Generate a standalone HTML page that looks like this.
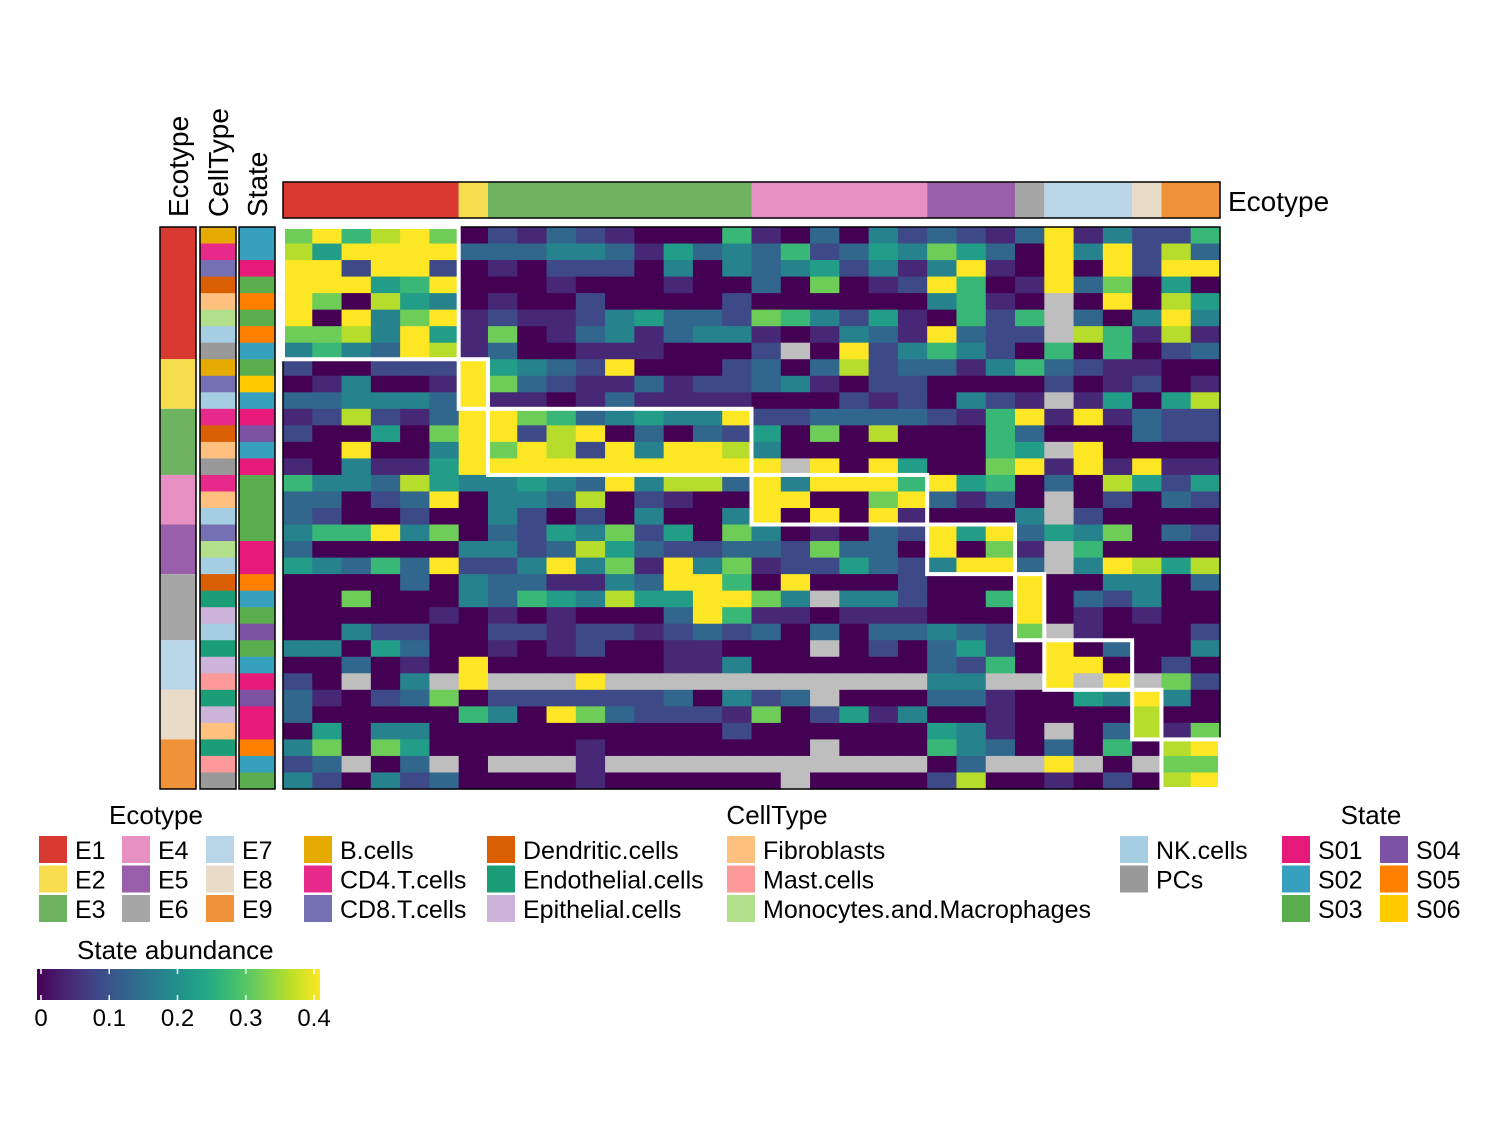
<!DOCTYPE html>
<html><head><meta charset="utf-8">
<style>
html,body{margin:0;padding:0;background:#fff;}
svg{display:block;font-family:"Liberation Sans",Arial,sans-serif;}
</style></head>
<body>
<svg id="chart" width="1500" height="1125" viewBox="0 0 1500 1125" xmlns="http://www.w3.org/2000/svg">
<defs>
<linearGradient id="vir" x1="0" x2="1" y1="0" y2="0">
<stop offset="0" stop-color="#440154"/><stop offset="0.1" stop-color="#482475"/><stop offset="0.2" stop-color="#414487"/><stop offset="0.3" stop-color="#355f8d"/><stop offset="0.4" stop-color="#2a788e"/><stop offset="0.5" stop-color="#21918c"/><stop offset="0.6" stop-color="#22a884"/><stop offset="0.7" stop-color="#44bf70"/><stop offset="0.8" stop-color="#7ad151"/><stop offset="0.9" stop-color="#bddf26"/><stop offset="1" stop-color="#fde725"/>
</linearGradient>
</defs>
<g id="cells"></g>
<g id="boxes"></g>
<g id="annots"></g>
<g id="legends"></g>
</svg>
<script>
const n = null;
const ecotypes = ["E1","E2","E3","E4","E5","E6","E7","E8","E9"];
const colEcotypeCounts = [6,1,9,6,3,1,3,1,2];
const rowEcotypeCounts = [8,3,4,3,3,4,3,3,3];
const rowCellTypes = ["B.cells","CD4.T.cells","CD8.T.cells","Dendritic.cells","Fibroblasts","Monocytes.and.Macrophages","NK.cells","PCs",
 "B.cells","CD8.T.cells","NK.cells","CD4.T.cells","Dendritic.cells","Fibroblasts","PCs",
 "CD4.T.cells","Fibroblasts","NK.cells","CD8.T.cells","Monocytes.and.Macrophages","NK.cells",
 "Dendritic.cells","Endothelial.cells","Epithelial.cells","NK.cells","Endothelial.cells","Epithelial.cells","Mast.cells",
 "Endothelial.cells","Epithelial.cells","Fibroblasts","Endothelial.cells","Mast.cells","PCs"];
const rowStates = ["S02","S02","S01","S03","S05","S03","S05","S02","S03","S06","S02","S01","S04","S02","S01",
 "S03","S03","S03","S03","S01","S01","S05","S02","S03","S04","S03","S02","S01","S04","S01","S01","S05","S02","S03"];
// abundance levels 0..9 (level 9 = 0.4), null = NA
const abundanceLevel = [
[7,9,6,8,9,7,0,2,1,3,2,1,0,0,0,6,1,0,3,0,4,2,3,2,1,3,9,1,4,2,2,6],
[8,5,9,9,9,9,3,3,3,4,4,3,1,5,3,4,3,6,2,3,5,4,7,5,3,0,9,4,9,2,8,3],
[9,9,2,9,9,2,0,1,0,2,2,2,0,4,0,4,3,4,5,2,4,1,4,9,1,0,9,0,9,2,9,9],
[9,9,9,5,6,9,0,0,0,1,0,0,0,1,0,0,3,0,7,0,1,2,9,6,0,1,9,3,7,0,5,0],
[9,7,0,8,5,4,0,1,0,0,2,0,0,0,0,2,0,0,0,0,0,0,4,6,1,0,n,0,9,0,8,5],
[9,0,9,4,7,9,1,2,1,1,2,4,5,3,3,2,7,6,4,2,5,1,0,6,2,6,n,3,0,4,9,4],
[7,7,8,4,9,5,1,7,0,1,3,4,1,3,4,4,1,0,1,4,3,1,9,3,2,2,n,8,6,1,8,1],
[4,6,4,3,9,8,1,3,0,0,1,1,1,0,0,0,2,n,0,9,2,4,6,4,2,0,6,0,6,0,2,3],
[2,0,0,2,2,2,9,5,4,3,2,9,0,0,0,2,3,0,3,8,2,3,3,1,4,6,3,2,1,1,0,0],
[0,1,4,0,0,1,9,7,3,2,1,1,3,1,2,2,3,4,1,0,2,2,0,0,0,0,2,0,1,2,0,1],
[3,3,4,4,4,3,9,1,1,0,1,3,1,1,1,1,0,0,0,2,1,2,0,4,2,1,n,1,5,0,5,8],
[1,2,8,2,1,3,9,9,7,6,3,4,5,4,4,9,2,2,3,3,3,3,2,1,6,9,1,9,1,3,2,2],
[2,0,0,5,0,7,9,9,2,8,9,0,3,0,3,2,5,0,7,0,8,0,0,0,6,3,0,0,0,3,2,2],
[0,0,9,0,0,4,9,7,9,8,2,9,4,9,9,8,4,0,0,0,0,0,0,0,6,5,n,9,0,0,0,0],
[1,0,4,1,1,5,9,9,9,9,9,9,9,9,9,9,9,n,9,0,9,5,0,0,7,9,1,9,1,9,1,1],
[6,4,4,3,8,5,4,4,5,4,3,9,4,8,8,3,9,4,9,9,9,6,9,5,6,0,3,0,8,5,2,5],
[3,3,0,2,3,9,0,4,4,3,8,0,2,1,0,0,9,9,0,0,7,9,3,1,3,0,n,0,2,0,3,2],
[3,2,0,0,2,0,0,4,2,0,2,0,4,0,0,4,9,0,9,0,9,1,0,0,0,4,n,2,0,0,0,0],
[4,6,6,9,4,7,0,3,2,5,4,7,2,5,0,7,4,0,1,0,3,2,9,5,9,3,5,4,7,0,3,2],
[3,0,0,0,0,0,4,4,2,3,8,5,3,2,2,3,3,2,7,3,3,0,9,0,7,1,n,6,0,0,0,0],
[5,4,3,6,3,9,2,2,4,9,4,7,1,9,4,7,1,2,2,5,3,2,4,9,9,3,n,4,9,8,5,8],
[0,0,0,0,3,0,4,3,3,1,1,4,3,9,9,6,0,9,0,0,0,2,0,0,0,9,0,0,4,4,0,3],
[0,0,7,0,0,0,4,3,6,5,4,8,5,5,9,9,7,4,n,4,4,2,0,0,6,9,0,3,2,4,0,0],
[0,0,0,0,0,1,0,1,0,1,0,0,0,3,9,6,1,1,0,1,1,1,0,0,0,9,0,1,0,1,0,0],
[0,0,4,2,2,0,0,2,2,1,2,2,1,2,3,2,3,0,3,0,3,3,4,3,2,7,n,1,0,0,0,2],
[4,4,0,5,3,0,0,1,0,1,2,0,0,1,1,0,0,0,n,0,2,0,3,5,2,0,9,0,3,0,0,4],
[0,0,3,0,1,0,9,0,0,0,0,0,0,1,1,4,0,0,0,0,0,0,3,2,6,0,9,9,0,0,2,0],
[2,0,n,0,4,n,9,n,n,n,9,n,n,n,n,n,n,n,n,n,n,n,4,4,n,n,9,n,9,n,7,2],
[3,1,0,2,3,7,0,2,2,2,2,2,2,3,0,4,2,3,n,0,0,0,3,3,1,0,0,5,4,9,4,0],
[3,0,0,0,0,0,6,4,0,9,7,3,2,2,2,1,7,0,2,5,1,4,0,0,1,0,0,0,0,8,0,0],
[0,5,0,4,4,0,0,0,0,0,0,0,0,0,0,2,0,0,0,0,0,0,5,4,1,0,n,0,3,8,1,7],
[4,7,0,7,5,0,0,0,0,0,1,0,0,0,0,0,0,0,n,0,0,0,6,4,3,0,3,0,6,0,8,9],
[2,3,n,0,3,n,0,n,n,n,1,n,n,n,n,n,n,n,n,n,n,n,0,3,n,n,9,n,0,n,7,7],
[4,2,0,4,2,3,0,0,0,0,1,0,0,0,0,0,0,n,0,0,0,0,2,8,0,0,1,0,2,0,8,9]
];
const colorbarTicks = [0,0.1,0.2,0.3,0.4];
const colorbarLabels = ["0","0.1","0.2","0.3","0.4"];

const ecoColors = {E1:"#d83a32",E2:"#f7dc4e",E3:"#6db362",E4:"#e58fc3",E5:"#9a5fab",E6:"#a6a6a6",E7:"#b9d5e8",E8:"#e8dbc8",E9:"#f0923a"};
const ctColors = {"B.cells":"#e6ab02","CD4.T.cells":"#e7298a","CD8.T.cells":"#7570b3","Dendritic.cells":"#d95f02","Endothelial.cells":"#1b9e77","Epithelial.cells":"#cbb3d9","Fibroblasts":"#fdc07f","Mast.cells":"#fb9a99","Monocytes.and.Macrophages":"#b2df8a","NK.cells":"#a6cee3","PCs":"#999999"};
const stColors = {S01:"#e7197a",S02:"#36a0be",S03:"#5aae4d",S04:"#7b52a4",S05:"#ff7f00",S06:"#ffcc00"};

const NS="http://www.w3.org/2000/svg";
function mk(tag, attrs, parent){const e=document.createElementNS(NS,tag);for(const k in attrs)e.setAttribute(k,attrs[k]);parent.appendChild(e);return e;}
const VIR=["#440154","#482475","#414487","#355f8d","#2a788e","#21918c","#22a884","#44bf70","#7ad151","#bddf26","#fde725"];
function hex(h){return [1,3,5].map(i=>parseInt(h.substr(i,2),16));}
function viridis(t){t=Math.max(0,Math.min(1,t));const p=t*10,i=Math.min(9,Math.floor(p)),f=p-i;const a=hex(VIR[i]),b=hex(VIR[i+1]);return "rgb("+a.map((v,k)=>Math.round(v+(b[k]-v)*f)).join(",")+")";}
const levelToValue = l => l*0.4/9;

const X0=283,Y0=227,W=937,H=562;
const nCols=abundanceLevel[0].length,nRows=abundanceLevel.length;
const cw=W/nCols,ch=H/nRows;
const xScale=c=>X0+c*cw, yScale=r=>Y0+r*ch;
const vScale=v=>v/0.4;

const cells=document.getElementById('cells');
abundanceLevel.forEach((row,r)=>row.forEach((lv,c)=>{
  const rect=mk('rect',{x:xScale(c),y:yScale(r),width:cw+0.6,height:ch+0.6,fill:lv===null?"#bebebe":viridis(vScale(levelToValue(lv)))},cells);
  
  
}));
const hb=mk('rect',{x:X0,y:Y0,width:W,height:H,fill:"none",stroke:"#000","stroke-width":1.5},cells);



// diagonal boxes
const boxes=document.getElementById('boxes');
let cs=0,rs=0;
ecotypes.forEach((e,i)=>{
  const b=mk('rect',{x:xScale(cs),y:yScale(rs),width:colEcotypeCounts[i]*cw,height:rowEcotypeCounts[i]*ch,fill:"none",stroke:"#fff","stroke-width":4},boxes);
  
  
  cs+=colEcotypeCounts[i];rs+=rowEcotypeCounts[i];
});

// top ecotype annotation
const an=document.getElementById('annots');
cs=0;
ecotypes.forEach((e,i)=>{
  const r=mk('rect',{x:xScale(cs),y:182,width:colEcotypeCounts[i]*cw,height:36,fill:ecoColors[e]},an);
  
  
  cs+=colEcotypeCounts[i];
});
mk('rect',{x:X0,y:182,width:W,height:36,fill:"none",stroke:"#000","stroke-width":1.5},an);
const tl=mk('text',{x:1228,y:211,"font-size":28,fill:"#000"},an);tl.textContent="Ecotype";



// left annotations
rs=0;
ecotypes.forEach((e,i)=>{
  const r=mk('rect',{x:160,y:yScale(rs),width:36,height:rowEcotypeCounts[i]*ch,fill:ecoColors[e]},an);
  
  
  rs+=rowEcotypeCounts[i];
});
rowCellTypes.forEach((t,r)=>{
  const e=mk('rect',{x:200,y:yScale(r),width:36,height:ch+0.5,fill:ctColors[t]},an);
  
  
});
rowStates.forEach((s,r)=>{
  const e=mk('rect',{x:239,y:yScale(r),width:36,height:ch+0.5,fill:stColors[s]},an);
  
  
});
[160,200,239].forEach(x=>mk('rect',{x:x,y:Y0,width:36,height:H,fill:"none",stroke:"#000","stroke-width":1.5},an));
[["Ecotype",188],["CellType",228],["State",267]].forEach(([t,x])=>{
  const e=mk('text',{x:x,y:217,"font-size":28,transform:"rotate(-90 "+x+" 217)",fill:"#000"},an);e.textContent=t;
  
  
});

// legends
const lg=document.getElementById('legends');
function title(t,x,anchor){const e=mk('text',{x:x,y:824,"font-size":26,"text-anchor":anchor||"middle"},lg);e.textContent=t;
  
  }
function entry(lbl,color,sx,row){
  const y=836+row*29.5;
  const s=mk('rect',{x:sx,y:y,width:28,height:27,fill:color},lg);
  
  
  const t=mk('text',{x:sx+36,y:y+23,"font-size":25},lg);t.textContent=lbl;
  
  
}
title("Ecotype",156);
ecotypes.forEach((e,i)=>entry(e,ecoColors[e],[39,122,206][Math.floor(i/3)],i%3));
title("CellType",777);
const ctNames=Object.keys(ctColors);
const ctX=[304,487,727,1120];
ctNames.forEach((t,i)=>{const col=i<9?Math.floor(i/3):3;const row=i<9?i%3:i-9;entry(t,ctColors[t],ctX[col],row);});
title("State",1371);
Object.keys(stColors).forEach((s,i)=>entry(s,stColors[s],[1282,1380][Math.floor(i/3)],i%3));

// colorbar
const cbT=mk('text',{x:77,y:959,"font-size":26},lg);cbT.textContent="State abundance";


const cb=mk('rect',{x:37,y:969,width:283,height:31,fill:"url(#vir)"},lg);


const cbX=v=>41+v/0.4*273;
colorbarTicks.forEach((v,i)=>{
  mk('line',{x1:cbX(v),x2:cbX(v),y1:969,y2:974,stroke:"#fff","stroke-width":1.5},lg);
  mk('line',{x1:cbX(v),x2:cbX(v),y1:995,y2:1000,stroke:"#fff","stroke-width":1.5},lg);
  const t=mk('text',{x:cbX(v),y:1026,"font-size":24,"text-anchor":"middle"},lg);t.textContent=colorbarLabels[i];
  
  
});
</script>
</body></html>
